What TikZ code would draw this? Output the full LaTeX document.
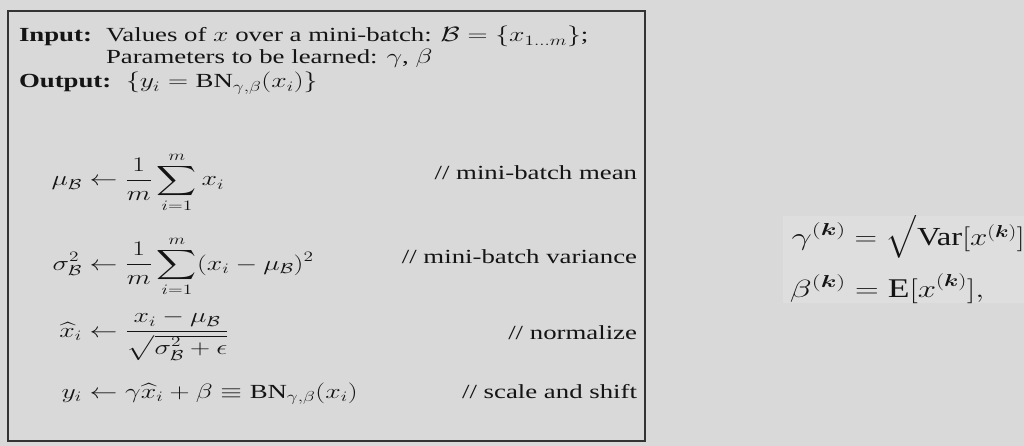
\documentclass[tikz,border=0pt]{standalone}
\usepackage{amsmath}
\usepackage{fontspec}
\setmainfont{Liberation Serif}
\definecolor{bg}{RGB}{217,217,217}
\definecolor{strip}{RGB}{222,222,222}
\definecolor{ink}{RGB}{20,20,20}
\begin{document}
\begin{tikzpicture}[x=1pt,y=1pt,
  txt/.style={inner sep=0pt, outer sep=0pt, text=ink, font=\fontsize{20}{24}\selectfont, xscale=1.34, transform shape},
  txtr/.style={inner sep=0pt, outer sep=0pt, text=ink, font=\fontsize{27}{32}\selectfont, xscale=1.32, transform shape},
  frame/.style={draw=black!80, line width=1.3pt}]
\fill[bg] (0,0) rectangle (1024,-446);
\useasboundingbox (0,0) rectangle (1024,-446);
\draw[frame] (8,-11) rectangle (645,-441);
% anchor points
\coordinate (pInL) at (19,-42);
\coordinate (pInV) at (106,-42);
\coordinate (pPar) at (106,-64);
\coordinate (pOutL) at (19,-88);
\coordinate (pOutV) at (126,-88);
\coordinate (e1) at (82,-186);
\coordinate (e2) at (82,-270);
\coordinate (e3) at (82,-337);
\coordinate (e4) at (82,-398);
\coordinate (k1) at (637,-180);
\coordinate (k2) at (637,-263);
\coordinate (k3) at (637,-339);
\coordinate (k4) at (637,-398);
\coordinate (q1) at (846,-245);
\coordinate (q2) at (846,-297);
% header
\node[txt, anchor=base west] (inlab) at (pInL) {\textbf{Input:}};
\node[txt, anchor=base west] (inval) at (pInV) {Values of $x$ over a mini-batch: $\mathcal{B}=\{x_{1\dots m}\}$;};
\node[txt, anchor=base west] (par) at (pPar) {Parameters to be learned: $\gamma$, $\beta$};
\node[txt, anchor=base west] (outlab) at (pOutL) {\textbf{Output:}};
\node[txt, anchor=base west] (outval) at (pOutV) {$\{y_i=\mathrm{BN}_{\gamma,\beta}(x_i)\}$};
% equations
\node[txt, anchor=base east] (l1) at (e1) {$\displaystyle \mu_{\mathcal{B}}$};
\node[txt, anchor=base west] (r1) at (e1) {$\displaystyle {}\leftarrow \frac{1}{m}\sum_{i=1}^{m} x_i$};
\node[txt, anchor=base east] (l2) at (e2) {$\displaystyle \sigma_{\mathcal{B}}^2$};
\node[txt, anchor=base west] (r2) at (e2) {$\displaystyle {}\leftarrow \frac{1}{m}\sum_{i=1}^{m} (x_i-\mu_{\mathcal{B}})^2$};
\node[txt, anchor=base east] (l3) at (e3) {$\displaystyle \widehat{x}_i$};
\node[txt, anchor=base west] (r3) at (e3) {$\displaystyle {}\leftarrow \frac{x_i-\mu_{\mathcal{B}}}{\sqrt{\sigma_{\mathcal{B}}^2+\epsilon}}$};
\node[txt, anchor=base east] (l4) at (e4) {$\displaystyle y_i$};
\node[txt, anchor=base west] (r4) at (e4) {$\displaystyle {}\leftarrow \gamma\widehat{x}_i+\beta\equiv\mathrm{BN}_{\gamma,\beta}(x_i)$};
% comments
\node[txt, anchor=base east] (c1) at (k1) {// mini-batch mean};
\node[txt, anchor=base east] (c2) at (k2) {// mini-batch variance};
\node[txt, anchor=base east] (c3) at (k3) {// normalize};
\node[txt, anchor=base east] (c4) at (k4) {// scale and shift};
% right pasted equations
\fill[strip] (783,-216) rectangle (1024,-303);
\begin{scope}
\clip (783,-216) rectangle (1024,-303);
\node[txtr, anchor=base east, xscale=1.1] (g1) at (q1) {$\gamma^{(\boldsymbol{k})}$};
\node[txtr, anchor=base west, font=\fontsize{26}{31}\selectfont, xscale=0.95] (g2) at (q1) {$\displaystyle {}=\sqrt{\text{Var}[x^{(\boldsymbol{k})}]}$};
\node[txtr, anchor=base east, xscale=1.1] (b1) at (q2) {$\beta^{(\boldsymbol{k})}$};
\node[txtr, anchor=base west] (b2) at (q2) {$\displaystyle {}=\text{E}[x^{(\boldsymbol{k})}],$};
\end{scope}
\end{tikzpicture}
\end{document}
